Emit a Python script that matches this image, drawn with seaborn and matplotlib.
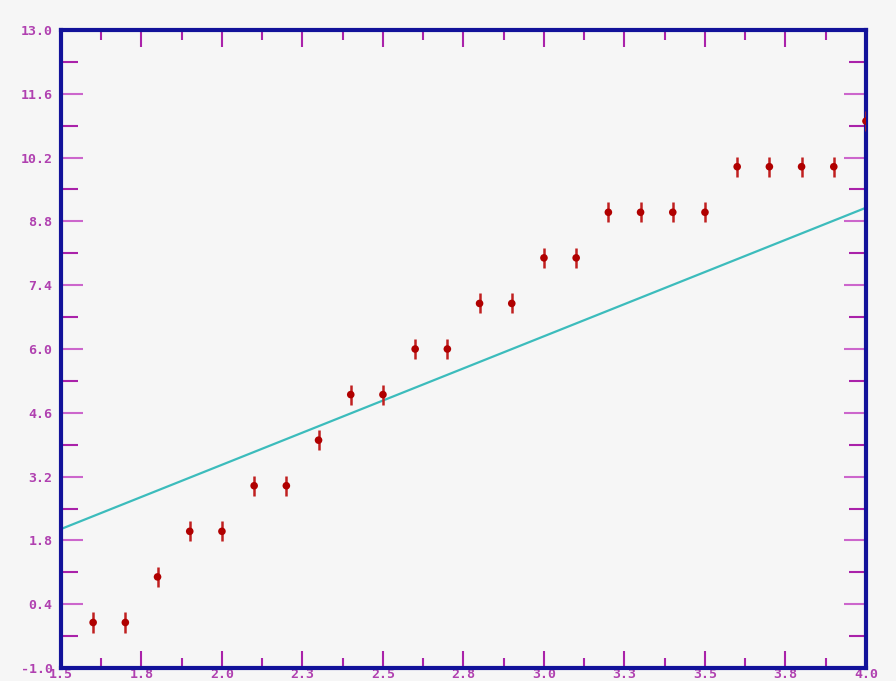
import matplotlib
matplotlib.use('Agg')
import matplotlib.pyplot as plt
from matplotlib.ticker import FixedLocator, MultipleLocator
import numpy as np
import pandas as pd
import seaborn as sns

# 측정값 (계단 모양 데이터)
x_vals = [1.6, 1.7, 1.8, 1.9, 2.0, 2.1, 2.2, 2.3, 2.4, 2.5, 2.6, 2.7, 2.8,
          2.9, 3.0, 3.1, 3.2, 3.3, 3.4, 3.5, 3.6, 3.7, 3.8, 3.9, 4.0]
y_vals = [0, 0, 1, 2, 2, 3, 3, 4, 5, 5, 6, 6, 7,
          7, 8, 8, 9, 9, 9, 9, 10, 10, 10, 10, 11]
y_err = 0.22

# 직선 (양 끝점)
fit_x = [1.5, 4.0]
fit_y = [2.05, 9.1]

x_ticks = [1.5, 1.75, 2.0, 2.25, 2.5, 2.75, 3.0, 3.25, 3.5, 3.75, 4.0]
x_labels = ['1.5', '1.8', '2.0', '2.3', '2.5', '2.8', '3.0', '3.3', '3.5', '3.8', '4.0']
y_ticks = [-1.0, 0.4, 1.8, 3.2, 4.6, 6.0, 7.4, 8.8, 10.2, 11.6, 13.0]
y_labels = ['-1.0', '0.4', '1.8', '3.2', '4.6', '6.0', '7.4', '8.8', '10.2', '11.6', '13.0']

df = pd.DataFrame({'x': x_vals, 'y': y_vals})
fit = pd.DataFrame({'x': fit_x, 'y': fit_y})

sns.set_style('white')
bg = '#f6f6f6'
fig = plt.figure(figsize=(8.96, 6.81), dpi=100, facecolor=bg)
ax = fig.add_axes([0.068, 0.019, 0.8985, 0.937])
ax.set_facecolor(bg)

sns.lineplot(data=fit, x='x', y='y', color='#3cbcbc', linewidth=1.6, ax=ax)
ax.errorbar(df['x'], df['y'], yerr=y_err, fmt='none', ecolor='#c02020',
            elinewidth=1.8, capsize=0, zorder=3)
sns.scatterplot(data=df, x='x', y='y', color='#b00000', s=30, edgecolor='none',
                ax=ax, zorder=4)

ax.set_xlim(1.5, 4.0)
ax.set_ylim(-1.0, 13.0)
ax.set_xlabel('')
ax.set_ylabel('')

tick_col = '#aa22aa'
ax.xaxis.set_major_locator(FixedLocator(x_ticks))
ax.set_xticklabels(x_labels)
ax.xaxis.set_minor_locator(MultipleLocator(0.125))
ax.yaxis.set_major_locator(FixedLocator(y_ticks))
ax.set_yticklabels(y_labels)
# 보조 눈금: 라벨 눈금 사이 가운데
ax.yaxis.set_minor_locator(FixedLocator([t + 0.7 for t in y_ticks[:-1]]))

ax.tick_params(axis='both', which='both', direction='in', top=True, right=True,
               bottom=True, left=True, color=tick_col, width=1.5)
ax.tick_params(axis='x', which='major', length=12, pad=0)
ax.tick_params(axis='x', which='minor', length=7)
ax.tick_params(axis='y', which='major', length=16, pad=6, color='#cc66cc')
ax.tick_params(axis='y', which='minor', length=12)

for lab in ax.get_xticklabels() + ax.get_yticklabels():
    lab.set_fontfamily('DejaVu Sans Mono')
    lab.set_fontweight('bold')
    lab.set_fontsize(9.5)
    lab.set_color('#b040b0')

for sp in ax.spines.values():
    sp.set_visible(True)
    sp.set_color('#12129a')
    sp.set_linewidth(3)

fig.savefig('out.png', dpi=100, facecolor=bg)
